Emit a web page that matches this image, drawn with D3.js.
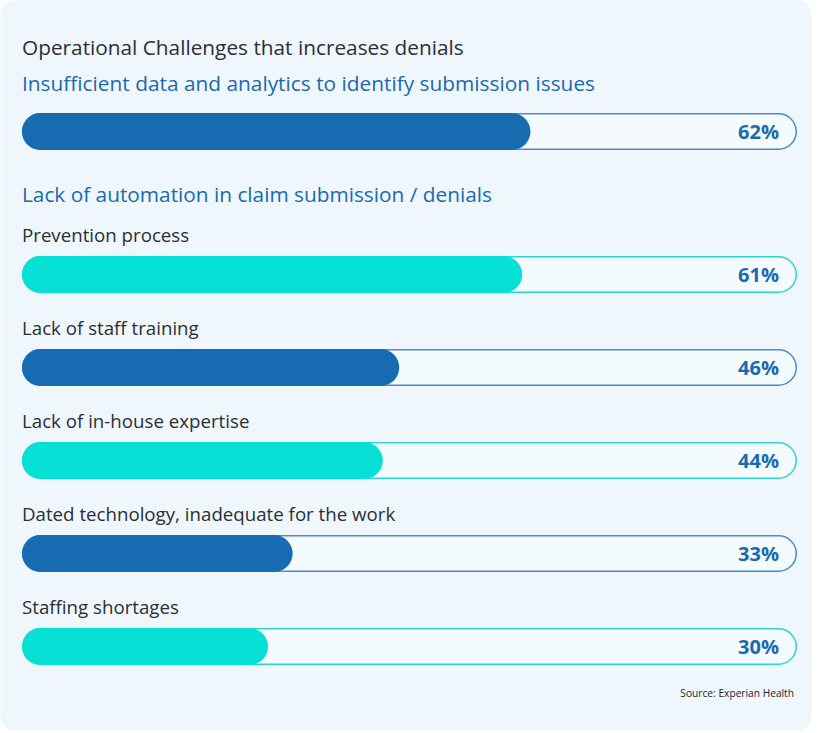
<!DOCTYPE html>
<html><head><meta charset="utf-8">
<script src="https://cdn.jsdelivr.net/npm/d3@7"></script>
<style>
html,body{margin:0;padding:0;background:#ffffff;}
svg{display:block;font-family:"Open Sans","Noto Sans",sans-serif;}
</style></head>
<body>
<svg id="chart" width="820" height="733"></svg>
<script>
const title = "Operational Challenges that increases denials";
const categories = [
  "Insufficient data and analytics to identify submission issues",
  "Prevention process",
  "Lack of staff training",
  "Lack of in-house expertise",
  "Dated technology, inadequate for the work",
  "Staffing shortages"
];
const values = [62, 61, 46, 44, 33, 30];
const sectionHeading = "Lack of automation in claim submission / denials";
const source = "Source: Experian Health";

const svg = d3.select("#chart");
const left = 22, right = 797, barH = 37;
const darkBlue = "#176bb0", teal = "#07e0d5";
const headBlue = "#1b6aab", textDark = "#2b2f33";

svg.append("rect").attr("x", 0.5).attr("y", 0.5).attr("width", 811).attr("height", 730)
  .attr("rx", 14).attr("fill", "#eff7fd");

const x = d3.scaleLinear().domain([0, 94.5]).range([left, right]);
const rowTop = d3.scaleLinear().domain([1, 5]).range([256, 628]);
const barTop = i => i === 0 ? 113 : rowTop(i);

svg.append("text").attr("x", left).attr("y", 54.5).attr("fill", textDark)
  .attr("font-size", 20.8).attr("font-weight", 500).text(title);
svg.append("text").attr("x", left).attr("y", 91).attr("fill", headBlue)
  .attr("font-size", 20.85).attr("font-weight", 500).text(categories[0]);
svg.append("text").attr("x", left).attr("y", 202).attr("fill", headBlue)
  .attr("font-size", 20.8).attr("font-weight", 500).text(sectionHeading);

const rows = svg.selectAll("g.row").data(categories.map((c, i) => ({c, v: values[i], i})))
  .enter().append("g").attr("class", "row");

rows.filter(d => d.i > 0).append("text")
  .attr("x", left).attr("y", d => barTop(d.i) - 14.5)
  .attr("fill", textDark).attr("font-size", 18.7).attr("font-weight", 500).text(d => d.c);

rows.append("rect")
  .attr("x", left + 0.75).attr("y", d => barTop(d.i) + 0.75)
  .attr("width", right - left - 1.5).attr("height", barH - 1.5)
  .attr("rx", (barH - 1.5) / 2)
  .attr("fill", "#f4fbff")
  .attr("stroke", d => d.i % 2 === 0 ? "#4a8ccc" : "#2bd6d2")
  .attr("stroke-width", 1.5);

rows.append("rect")
  .attr("x", left).attr("y", d => barTop(d.i))
  .attr("width", d => x(d.v) - left).attr("height", barH)
  .attr("rx", barH / 2)
  .attr("fill", d => d.i % 2 === 0 ? darkBlue : teal);

rows.append("text")
  .attr("x", 779).attr("y", d => barTop(d.i) + barH / 2 + 7.5)
  .attr("text-anchor", "end").attr("font-weight", 700).attr("font-size", 20)
  .attr("fill", headBlue).text(d => d.v + "%");

svg.append("text").attr("x", 794).attr("y", 697).attr("text-anchor", "end")
  .attr("font-size", 10.2).attr("font-weight", 500).attr("fill", "#1f2326").text(source);
</script>
</body></html>
